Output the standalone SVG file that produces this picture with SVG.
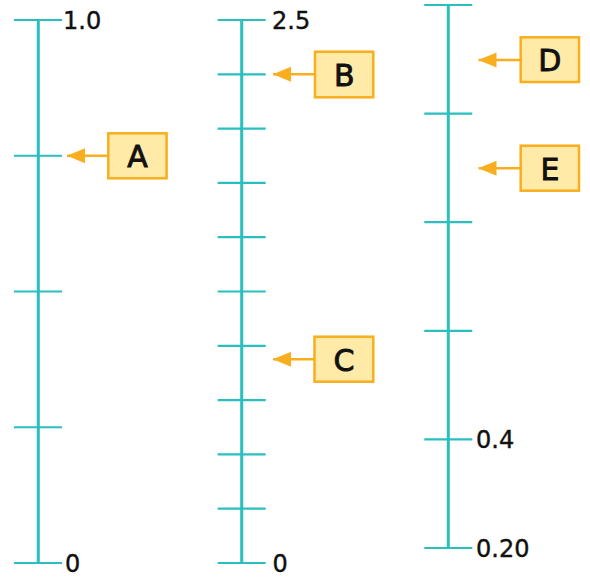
<svg xmlns="http://www.w3.org/2000/svg" width="590" height="578" viewBox="0 0 590 578">
<style>
.axis{stroke:#29BFBF;stroke-width:3;fill:none}
.tick{stroke:#29BFBF;stroke-width:2.2;fill:none}
.num{font-family:"DejaVu Sans",sans-serif;font-size:24px;fill:#111;stroke:#111;stroke-width:0.4}
.box{fill:#FFEAA8;stroke:#F9AE1E;stroke-width:2.5}
.lbl{font-family:"DejaVu Sans",sans-serif;font-size:30px;fill:#111;stroke:#111;stroke-width:0.9;text-anchor:middle}
.arr{stroke:#F9AE1E;stroke-width:2.5;fill:none}
</style>
<defs>
<marker id="ah" markerUnits="userSpaceOnUse" markerWidth="18" markerHeight="16" refX="18" refY="8" orient="auto" viewBox="0 0 18 16">
<path d="M18,8 L0,0.5 L0,15.5 Z" fill="#F9AE1E"/>
</marker>
</defs>
<g id="scale1">
<line class="axis" x1="38.3" y1="20" x2="38.3" y2="563"/>
<line class="tick" x1="14" y1="20" x2="62" y2="20"/>
<line class="tick" x1="14" y1="155.75" x2="62" y2="155.75"/>
<line class="tick" x1="14" y1="291.5" x2="62" y2="291.5"/>
<line class="tick" x1="14" y1="427.25" x2="62" y2="427.25"/>
<line class="tick" x1="14" y1="563" x2="62" y2="563"/>
<text class="num" x="63" y="29">1.0</text>
<text class="num" x="65" y="572">0</text>
</g>
<g id="scale2">
<line class="axis" x1="241.7" y1="20" x2="241.7" y2="563"/>
<line class="tick" x1="217.7" y1="20" x2="265.7" y2="20"/>
<line class="tick" x1="217.7" y1="74.3" x2="265.7" y2="74.3"/>
<line class="tick" x1="217.7" y1="128.6" x2="265.7" y2="128.6"/>
<line class="tick" x1="217.7" y1="182.9" x2="265.7" y2="182.9"/>
<line class="tick" x1="217.7" y1="237.2" x2="265.7" y2="237.2"/>
<line class="tick" x1="217.7" y1="291.5" x2="265.7" y2="291.5"/>
<line class="tick" x1="217.7" y1="345.8" x2="265.7" y2="345.8"/>
<line class="tick" x1="217.7" y1="400.1" x2="265.7" y2="400.1"/>
<line class="tick" x1="217.7" y1="454.4" x2="265.7" y2="454.4"/>
<line class="tick" x1="217.7" y1="508.7" x2="265.7" y2="508.7"/>
<line class="tick" x1="217.7" y1="563" x2="265.7" y2="563"/>
<text class="num" x="272" y="29">2.5</text>
<text class="num" x="272.5" y="572">0</text>
</g>
<g id="scale3">
<line class="axis" x1="448.3" y1="5" x2="448.3" y2="548"/>
<line class="tick" x1="424.3" y1="5" x2="472.3" y2="5"/>
<line class="tick" x1="424.3" y1="113.6" x2="472.3" y2="113.6"/>
<line class="tick" x1="424.3" y1="222.2" x2="472.3" y2="222.2"/>
<line class="tick" x1="424.3" y1="330.8" x2="472.3" y2="330.8"/>
<line class="tick" x1="424.3" y1="439.4" x2="472.3" y2="439.4"/>
<line class="tick" x1="424.3" y1="548" x2="472.3" y2="548"/>
<text class="num" x="476" y="448">0.4</text>
<text class="num" x="476" y="557">0.20</text>
</g>
<g id="connectors">
<line class="arr" x1="108.3" y1="155.7" x2="67" y2="155.7" marker-end="url(#ah)"/>
<line class="arr" x1="315" y1="74.3" x2="273" y2="74.3" marker-end="url(#ah)"/>
<line class="arr" x1="315" y1="359.3" x2="273" y2="359.3" marker-end="url(#ah)"/>
<line class="arr" x1="521" y1="60" x2="478.5" y2="60" marker-end="url(#ah)"/>
<line class="arr" x1="521" y1="168.3" x2="478.5" y2="168.3" marker-end="url(#ah)"/>
</g>
<g id="nodeA"><rect class="box" x="108.3" y="133.3" width="58.3" height="45"/><text class="lbl" x="137.5" y="166.5">A</text></g>
<g id="nodeB"><rect class="box" x="315" y="51.7" width="58.3" height="45.6"/><text class="lbl" x="344.2" y="85.5">B</text></g>
<g id="nodeC"><rect class="box" x="314.5" y="336.7" width="58.8" height="45"/><text class="lbl" x="344" y="370.5">C</text></g>
<g id="nodeD"><rect class="box" x="520.7" y="37.3" width="58.3" height="44.7"/><text class="lbl" x="549.9" y="71">D</text></g>
<g id="nodeE"><rect class="box" x="520.7" y="145.7" width="58.3" height="45"/><text class="lbl" x="549.9" y="179.5">E</text></g>
</svg>
